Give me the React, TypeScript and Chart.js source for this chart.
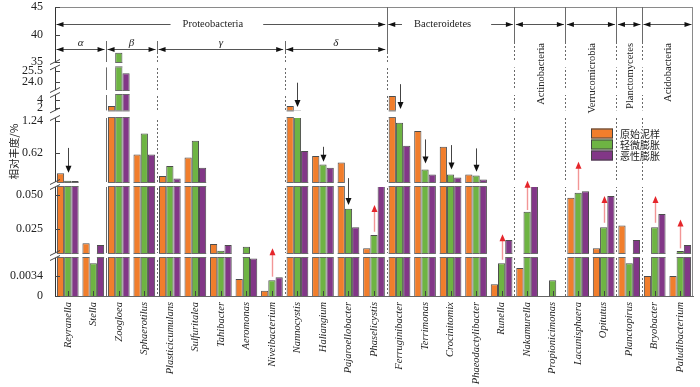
import React, { useEffect, useRef } from "react";
import { Chart, registerables } from "chart.js";

Chart.register(...registerables);

// ---------------- data ----------------
const genera = [
  "Reyranella", "Stella", "Zoogloea", "Sphaerotilus", "Plasticicumulans",
  "Sulfuritalea", "Tahibacter", "Aeromonas", "Niveibacterium", "Nannocystis",
  "Haliangium", "Pajaroellobacter", "Phaselicystis", "Ferruginibacter", "Terrimonas",
  "Crocinitomix", "Phaeodactylibacter", "Runella", "Nakamurella", "Propionicimonas",
  "Lacunisphaera", "Opitutus", "Planctopirus", "Bryobacter", "Paludibacterium",
];

const seriesNames = ["原始泥样", "轻微膨胀", "恶性膨胀"];

const rawSludge = [
  0.23, 0.0145, 2.5, 0.595, 0.174, 0.537, 0.014, 0.0029, 0.0009, 2.5,
  0.562, 0.44, 0.0108, 5.0, 1.05, 0.742, 0.207, 0.002, 0.0048, 0,
  0.048, 0.0108, 0.0277, 0.0034, 0.0034,
];
const slightBulking = [
  0.085, 0.0056, 36.7, 1.0, 0.368, 0.858, 0.009, 0.012, 0.0027, 1.42,
  0.40, 0.040, 0.0206, 1.207, 0.304, 0.207, 0.188, 0.0056, 0.0377, 0.0027,
  0.0517, 0.0263, 0.0056, 0.0263, 0.0088,
];
const severeBulking = [
  0.08, 0.0132, 25.2, 0.595, 0.13, 0.335, 0.0132, 0.0064, 0.0032, 0.659,
  0.335, 0.0263, 0.062, 0.761, 0.207, 0.149, 0.11, 0.0169, 0.062, 0,
  0.0527, 0.0493, 0.0169, 0.036, 0.0132,
];

const yTickValues = [0, 0.0034, 0.025, 0.05, 0.62, 1.24, 2, 4, 24, 25.5, 35, 40, 45];
const yTickLabels = ["0", "0.0034", "0.025", "0.050", "0.62", "1.24", "2", "4", "24.0", "25.5", "35", "40", "45"];

// broken axis definition: [value, axis unit]; pairs (1,2),(3,4)... are breaks
const axisKnots: [number, number][] = [
  [0, 0], [0.0065, 38],
  [0.0074, 43], [0.0559, 109],
  [0.06, 114], [1.3, 178],
  [1.4, 185.6], [5.25, 201],
  [22.9, 206], [26, 228.6],
  [35, 234], [45, 289],
];

const phyla = [
  { name: "Proteobacteria", start: 0, end: 13, vertical: false },
  { name: "Bacteroidetes", start: 13, end: 18, vertical: false },
  { name: "Actinobacteria", start: 18, end: 20, vertical: true },
  { name: "Verrucomicrobia", start: 20, end: 22, vertical: true },
  { name: "Planctomycetes", start: 22, end: 23, vertical: true },
  { name: "Acidobacteria", start: 23, end: 25, vertical: true },
];
const proteoClasses = [
  { name: "α", start: 0, end: 2 },
  { name: "β", start: 2, end: 4 },
  { name: "γ", start: 4, end: 9 },
  { name: "δ", start: 9, end: 13 },
];

// [category index, from value, to value]
const trendArrows: [number, number, number][] = [
  [0, 0.72, 0.24],
  [8, 0.0033, 0.0108],
  [9, 23.9, 2.25],
  [10, 0.742, 0.451],
  [11, 0.135, 0.0426],
  [12, 0.023, 0.0426],
  [13, 23.7, 1.75],
  [14, 0.885, 0.42],
  [15, 0.775, 0.304],
  [16, 0.711, 0.258],
  [17, 0.0062, 0.0211],
  [18, 0.039, 0.083],
  [20, 0.0537, 0.451],
  [21, 0.0296, 0.0493],
  [23, 0.0296, 0.0493],
  [24, 0.0108, 0.0321],
];

// ---------------- helpers ----------------
function T(v: number): number {
  const k = axisKnots;
  if (v <= k[0][0]) return k[0][1];
  for (let i = 1; i < k.length; i++) {
    if (v <= k[i][0]) {
      const [v0, p0] = k[i - 1];
      const [v1, p1] = k[i];
      return p0 + ((v - v0) / (v1 - v0)) * (p1 - p0);
    }
  }
  return k[k.length - 1][1];
}

const serif = "'Liberation Serif', 'Times New Roman', serif";
const cjk = "'Noto Sans CJK SC', sans-serif";
const barColors = ["#F17E2C", "#6EB443", "#823787"];

function seg(ctx: CanvasRenderingContext2D, x1: number, y1: number, x2: number, y2: number) {
  ctx.beginPath();
  ctx.moveTo(x1, y1);
  ctx.lineTo(x2, y2);
  ctx.stroke();
}
function hHead(ctx: CanvasRenderingContext2D, tipX: number, y: number, dir: number) {
  ctx.beginPath();
  ctx.moveTo(tipX, y);
  ctx.lineTo(tipX - dir * 7, y - 2.5);
  ctx.lineTo(tipX - dir * 7, y + 2.5);
  ctx.closePath();
  ctx.fill();
}

const decor = {
  id: "decor",
  beforeDatasetsDraw(chart: any) {
    const { ctx, chartArea: a, scales } = chart;
    const x = scales.x;
    const bx = (i: number) => Math.round(x.getPixelForValue(i - 0.5)) + 0.5;
    ctx.save();
    ctx.lineWidth = 1;
    ctx.strokeStyle = "#8a8a8a";
    seg(ctx, a.left, a.top + 0.5, a.right, a.top + 0.5);
    ctx.strokeStyle = "#6a6a6a";
    phyla.slice(1).forEach((p, k) => {
      const xx = bx(p.start);
      const solidEnd = k === 0 ? a.top + 45 : a.top + 35;
      ctx.setLineDash([]);
      seg(ctx, xx, a.top, xx, solidEnd);
      ctx.setLineDash([2, 2]);
      seg(ctx, xx, solidEnd, xx, a.bottom);
    });
    proteoClasses.slice(1).forEach((c, k) => {
      const xx = bx(c.start);
      ctx.setLineDash([]);
      if (k === 0) {
        seg(ctx, xx, a.top + 34, xx, a.bottom);
      } else {
        seg(ctx, xx, a.top + 34, xx, a.top + 45);
        ctx.setLineDash([2, 2]);
        seg(ctx, xx, a.top + 45, xx, a.bottom);
      }
    });
    ctx.restore();
  },
  afterDatasetsDraw(chart: any) {
    const { ctx, chartArea: a, scales } = chart;
    const x = scales.x;
    const y = scales.y;
    ctx.save();
    ctx.setLineDash([]);
    // axis breaks
    for (let k = 1; k < axisKnots.length - 1; k += 2) {
      const yT = y.getPixelForValue(axisKnots[k + 1][1]);
      const yB = y.getPixelForValue(axisKnots[k][1]);
      ctx.fillStyle = "#ffffff";
      ctx.fillRect(a.left - 1, yT, a.right - a.left, yB - yT);
      ctx.strokeStyle = "#6a6a6a";
      ctx.lineWidth = 1;
      chart.data.datasets.forEach((_: any, di: number) => {
        const meta = chart.getDatasetMeta(di);
        meta.data.forEach((el: any) => {
          if (el.y < yT - 0.5) {
            const w = el.width;
            seg(ctx, el.x - w / 2, yT + 0.5, el.x + w / 2, yT + 0.5);
            seg(ctx, el.x - w / 2, yB - 0.5, el.x + w / 2, yB - 0.5);
          }
        });
      });
      ctx.strokeStyle = "#444";
      [yT, yB].forEach((yy) => seg(ctx, a.left - 5, yy + 2.5, a.left + 5, yy - 2.5));
    }
    // inner ticks
    ctx.strokeStyle = "#444";
    ctx.lineWidth = 1;
    yTickValues.forEach((v) => {
      const yy = Math.round(y.getPixelForValue(T(v))) + 0.5;
      seg(ctx, a.left, yy, a.left + 5, yy);
    });
    genera.forEach((_, i) => {
      const xx = Math.round(x.getPixelForValue(i)) + 0.5;
      seg(ctx, xx, a.bottom - 5, xx, a.bottom);
    });
    // trend arrows
    trendArrows.forEach(([ci, from, to]) => {
      const xx = Math.round(x.getPixelForValue(ci)) + 0.5;
      const y1 = y.getPixelForValue(T(from));
      const y2 = y.getPixelForValue(T(to));
      const up = y2 < y1;
      const dir = up ? -1 : 1;
      ctx.strokeStyle = up ? "#f29696" : "#444";
      ctx.fillStyle = up ? "#e5262b" : "#111";
      ctx.lineWidth = up ? 1.4 : 1;
      seg(ctx, xx, y1, xx, y2 - dir * 6);
      ctx.beginPath();
      ctx.moveTo(xx, y2);
      ctx.lineTo(xx - 3, y2 - dir * 7);
      ctx.lineTo(xx + 3, y2 - dir * 7);
      ctx.closePath();
      ctx.fill();
    });
    ctx.restore();
  },
  afterDraw(chart: any) {
    const { ctx, chartArea: a, scales } = chart;
    const x = scales.x;
    const bx = (i: number) => x.getPixelForValue(i - 0.5);
    ctx.save();
    ctx.setLineDash([]);
    ctx.lineWidth = 1;
    ctx.strokeStyle = "#8a8a8a";
    seg(ctx, a.right - 0.5, a.top, a.right - 0.5, a.bottom);
    const row1 = a.top + 17.5;
    const row2 = a.top + 42.5;
    ctx.font = `10.5px ${serif}`;
    phyla.forEach((p) => {
      const x1 = bx(p.start) + 1.5;
      const x2 = bx(p.end) - 1.5;
      const cx = (x1 + x2) / 2;
      ctx.strokeStyle = "#555";
      if (!p.vertical) {
        const tw = ctx.measureText(p.name).width;
        const tx = cx - 8;
        seg(ctx, x1, row1, tx - tw / 2 - 12, row1);
        seg(ctx, tx + tw / 2 + 20, row1, x2, row1);
        ctx.fillStyle = "#222";
        ctx.textAlign = "center";
        ctx.textBaseline = "middle";
        ctx.fillText(p.name, tx, row1);
      } else {
        seg(ctx, x1, row1, x2, row1);
        ctx.save();
        ctx.translate(cx + 1, a.top + 36);
        ctx.rotate(-Math.PI / 2);
        ctx.fillStyle = "#222";
        ctx.textAlign = "right";
        ctx.textBaseline = "middle";
        ctx.fillText(p.name, 0, 0);
        ctx.restore();
      }
      ctx.fillStyle = "#111";
      hHead(ctx, x1, row1, -1);
      hHead(ctx, x2, row1, 1);
    });
    ctx.font = `italic 11px ${serif}`;
    proteoClasses.forEach((c) => {
      const x1 = bx(c.start) + 1.5;
      const x2 = bx(c.end) - 1.5;
      ctx.strokeStyle = "#555";
      seg(ctx, x1, row2, x2, row2);
      ctx.fillStyle = "#111";
      hHead(ctx, x1, row2, -1);
      hHead(ctx, x2, row2, 1);
      ctx.fillStyle = "#222";
      ctx.textAlign = "center";
      ctx.textBaseline = "middle";
      ctx.fillText(c.name, (x1 + x2) / 2, row2 - 6);
    });
    // legend
    const lx = a.right - 102;
    const ly0 = a.top + 121.5;
    const n = chart.data.datasets.length;
    ctx.fillStyle = "#ffffff";
    ctx.fillRect(lx + 26, ly0 - 1, 48, n * 11 + 1);
    ctx.font = `10px ${cjk}`;
    chart.data.datasets.forEach((ds: any, i: number) => {
      const ly = ly0 + i * 11;
      ctx.fillStyle = ds.backgroundColor;
      ctx.fillRect(lx, ly, 22, 10);
      ctx.strokeStyle = "#444";
      ctx.strokeRect(lx + 0.5, ly + 0.5, 21, 9);
      ctx.fillStyle = "#222";
      ctx.textAlign = "left";
      ctx.textBaseline = "middle";
      ctx.fillText(ds.label, lx + 29, ly + 5.5);
    });
    ctx.restore();
  },
};

export default function App() {
  const ref = useRef<HTMLCanvasElement>(null);
  useEffect(() => {
    document.body.style.margin = "0";
    const series = [rawSludge, slightBulking, severeBulking];
    const chart = new Chart(ref.current as HTMLCanvasElement, {
      type: "bar",
      data: {
        labels: genera,
        datasets: seriesNames.map((name, i) => ({
          label: name,
          data: series[i].map(T),
          backgroundColor: barColors[i],
          borderColor: "#4d4d4d",
          borderWidth: 1,
          barPercentage: 1,
          categoryPercentage: 0.85,
        })),
      },
      options: {
        responsive: false,
        animation: false,
        devicePixelRatio: 1,
        layout: { padding: { top: 0, right: 7, left: 0, bottom: 0 } },
        plugins: { legend: { display: false }, tooltip: { enabled: false } },
        scales: {
          x: {
            type: "category",
            grid: { display: false, drawTicks: false },
            border: { display: true, color: "#666", width: 1 },
            ticks: {
              autoSkip: false,
              minRotation: 90,
              maxRotation: 90,
              padding: 6,
              color: "#222",
              font: { family: "Liberation Serif", size: 10.5, style: "italic" },
            },
            afterFit(s: any) {
              s.height = 91;
            },
          },
          y: {
            type: "linear",
            min: 0,
            max: 289,
            grid: { display: false, drawTicks: true, tickLength: 12 },
            border: { display: true, color: "#333", width: 1 },
            ticks: {
              padding: 0,
              color: "#222",
              font: { family: "Liberation Serif", size: 12, lineHeight: 1.1667 },
              callback: (_v: any, idx: number) => yTickLabels[idx],
            },
            afterBuildTicks(s: any) {
              s.ticks = yTickValues.map((v) => ({ value: T(v) }));
            },
            afterFit(s: any) {
              s.width = 55;
            },
            title: {
              display: true,
              text: "相对丰度/%",
              color: "#222",
              font: { family: "Noto Sans CJK SC", size: 10.5 },
              padding: { top: 8, bottom: 0 },
            },
          },
        },
      },
      plugins: [decor],
    } as any);
    return () => chart.destroy();
  }, []);
  return (
    <div style={{ width: 700, height: 387 }}>
      <canvas ref={ref} width={700} height={387} style={{ display: "block" }} />
    </div>
  );
}
